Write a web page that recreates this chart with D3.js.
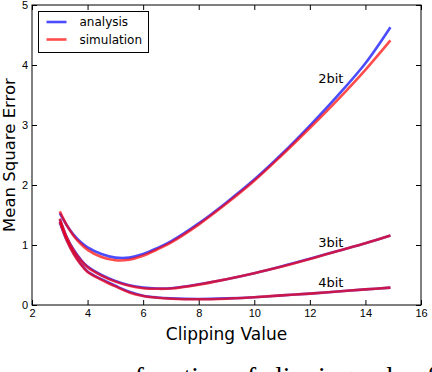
<!DOCTYPE html>
<html>
<head>
<meta charset="utf-8">
<script src="https://cdn.jsdelivr.net/npm/d3@7.9.0/dist/d3.min.js"></script>
<style>
  html, body { margin: 0; padding: 0; background: #fff; overflow: hidden; }
  svg { display: block; font-family: "DejaVu Sans", sans-serif; }
</style>
</head>
<body>
<div id="chart"></div>
<script>
// clipping values sampled along the curves
const clipping = [3, 3.25, 3.5, 3.75, 4, 4.5, 5, 5.5, 6, 6.5, 7, 8, 9, 10, 11, 12, 13, 14, 14.9];

// mean square error
const analysis2bit = [1.53, 1.33, 1.17, 1.05, 0.96, 0.85, 0.79, 0.79, 0.85, 0.945, 1.06, 1.36, 1.71, 2.09, 2.52, 2.99, 3.49, 4.03, 4.63];
const simulation2bit = [1.56, 1.33, 1.15, 1.02, 0.92, 0.80, 0.745, 0.755, 0.82, 0.925, 1.04, 1.34, 1.69, 2.07, 2.50, 2.95, 3.42, 3.92, 4.41];
const analysis3bit = [1.43, 1.13, 0.92, 0.76, 0.64, 0.50, 0.40, 0.33, 0.29, 0.275, 0.28, 0.345, 0.43, 0.53, 0.645, 0.77, 0.90, 1.03, 1.16];
const simulation3bit = [1.44, 1.13, 0.91, 0.75, 0.63, 0.49, 0.39, 0.32, 0.28, 0.27, 0.275, 0.34, 0.43, 0.53, 0.64, 0.765, 0.90, 1.03, 1.16];
const analysis4bit = [1.38, 1.08, 0.86, 0.69, 0.56, 0.43, 0.32, 0.22, 0.155, 0.125, 0.11, 0.10, 0.11, 0.13, 0.16, 0.19, 0.225, 0.26, 0.29];
const simulation4bit = [1.39, 1.08, 0.85, 0.68, 0.55, 0.42, 0.31, 0.21, 0.15, 0.12, 0.105, 0.095, 0.105, 0.13, 0.16, 0.19, 0.225, 0.26, 0.29];

const xTicks = [2, 4, 6, 8, 10, 12, 14, 16];
const yTicks = [0, 1, 2, 3, 4, 5];

const curveLabels = [
  { text: '2bit', x: 12.3, y: 3.7 },
  { text: '3bit', x: 12.3, y: 0.97 },
  { text: '4bit', x: 12.3, y: 0.3 },
];

const width = 432;
const height = 372;
const margin = { top: 5, right: 11, bottom: 67, left: 32 };

const xScale = d3.scaleLinear().domain([2, 16]).range([margin.left, width - margin.right]);
const yScale = d3.scaleLinear().domain([0, 5]).range([height - margin.bottom, margin.top]);

const svg = d3.select('#chart')
  .append('svg')
  .attr('width', width)
  .attr('height', height);

svg.append('rect').attr('width', width).attr('height', height).attr('fill', '#fff');

// axes with inward ticks, on all four sides
const tickStyle = (g) => {
  g.select('.domain').remove();
  g.selectAll('.tick line').attr('stroke', '#000');
  g.selectAll('.tick text').attr('fill', '#000').style('font-size', '11px');
};

svg.append('g')
  .attr('transform', `translate(0, ${yScale(0)})`)
  .call(d3.axisBottom(xScale).tickValues(xTicks).tickFormat(d3.format('d'))
    .tickSizeInner(-5).tickSizeOuter(0).tickPadding(4))
  .call(tickStyle);

svg.append('g')
  .attr('transform', `translate(${xScale(2)}, 0)`)
  .call(d3.axisLeft(yScale).tickValues(yTicks).tickFormat(d3.format('d'))
    .tickSizeInner(-5).tickSizeOuter(0).tickPadding(4))
  .call(tickStyle);

svg.append('g')
  .attr('transform', `translate(0, ${yScale(5)})`)
  .call(d3.axisTop(xScale).tickValues(xTicks).tickSizeInner(-5).tickSizeOuter(0).tickFormat(''))
  .call(tickStyle);

svg.append('g')
  .attr('transform', `translate(${xScale(16)}, 0)`)
  .call(d3.axisRight(yScale).tickValues(yTicks).tickSizeInner(-5).tickSizeOuter(0).tickFormat(''))
  .call(tickStyle);

svg.append('rect')
  .attr('x', xScale(2))
  .attr('y', yScale(5))
  .attr('width', xScale(16) - xScale(2))
  .attr('height', yScale(0) - yScale(5))
  .attr('fill', 'none')
  .attr('stroke', '#000')
  .attr('stroke-width', 1);

// curves
const line = d3.line()
  .x((d) => xScale(d[0]))
  .y((d) => yScale(d[1]))
  .curve(d3.curveCatmullRom.alpha(0.5));

const blue = 'rgba(0, 0, 255, 0.7)';
const red = 'rgba(255, 0, 0, 0.7)';

const curves = svg.append('g').attr('class', 'curves');
[analysis2bit, analysis3bit, analysis4bit].forEach((ys) => {
  curves.append('path')
    .attr('d', line(d3.zip(clipping, ys)))
    .attr('fill', 'none')
    .attr('stroke', blue)
    .attr('stroke-width', 2.6);
});
[simulation2bit, simulation3bit, simulation4bit].forEach((ys) => {
  curves.append('path')
    .attr('d', line(d3.zip(clipping, ys)))
    .attr('fill', 'none')
    .attr('stroke', red)
    .attr('stroke-width', 2.6);
});

svg.append('g')
  .selectAll('text')
  .data(curveLabels)
  .join('text')
  .attr('x', (d) => xScale(d.x))
  .attr('y', (d) => yScale(d.y))
  .style('font-size', '13px')
  .text((d) => d.text);

// legend
const legend = svg.append('g').attr('transform', 'translate(38.5, 11.5)');
legend.append('rect')
  .attr('width', 110)
  .attr('height', 41)
  .attr('fill', '#fff')
  .attr('stroke', '#000');
[['analysis', blue], ['simulation', red]].forEach(([name, color], i) => {
  const yy = 10.5 + i * 17.5;
  legend.append('line')
    .attr('x1', 8).attr('x2', 28)
    .attr('y1', yy).attr('y2', yy)
    .attr('stroke', color)
    .attr('stroke-width', 2.6);
  legend.append('text')
    .attr('x', 41)
    .attr('y', yy + 4.3)
    .style('font-size', '12px')
    .text(name);
});

// axis titles
svg.append('text')
  .attr('x', (xScale(2) + xScale(16)) / 2)
  .attr('y', 340)
  .attr('text-anchor', 'middle')
  .style('font-size', '17px')
  .text('Clipping Value');

svg.append('text')
  .attr('transform', `translate(14.5, ${(yScale(0) + yScale(5)) / 2}) rotate(-90)`)
  .attr('text-anchor', 'middle')
  .style('font-size', '16.5px')
  .text('Mean Square Error');

// caption text from the page below, cut off by the crop
svg.append('text')
  .attr('x', 115.6)
  .attr('y', 386)
  .style('font-family', '"Liberation Serif", serif')
  .style('font-size', '27.5px')
  .text('a function of clipping value for');
</script>
</body>
</html>
